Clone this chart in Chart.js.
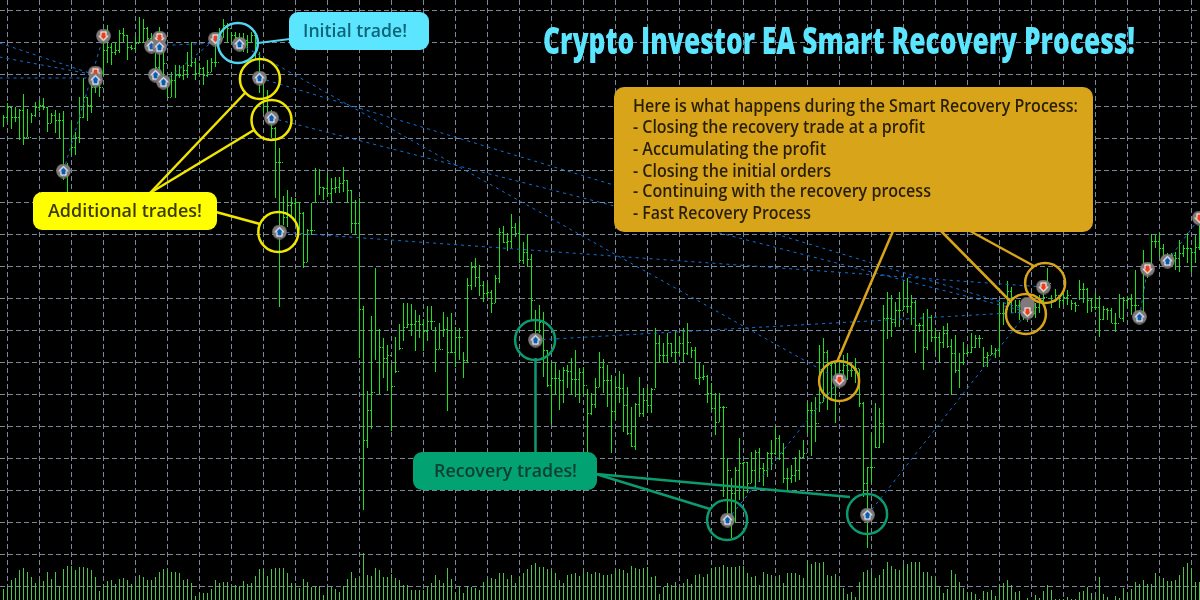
<!DOCTYPE html>
<html>
<head>
<meta charset="utf-8">
<title>Crypto Investor EA Smart Recovery Process</title>
<script src="https://cdn.jsdelivr.net/npm/chart.js@4"></script>
<style>
    html, body { margin: 0; padding: 0; background: #000; overflow: hidden; }
    #chart { display: block; }
</style>
</head>
<body>
<canvas id="chart" width="1200" height="600"></canvas>
<script>
// Price bars (one bar per 4 px, 300 bars)
const highs = [
    485,497,493,493,491,506,491,487,498,500,502,493,487,490,487,489,437,478,468,503,
    522,503,520,523,520,557,575,557,558,570,572,565,555,563,583,581,573,567,547,573,
    550,523,528,535,535,535,548,558,542,537,533,540,542,557,572,581,577,568,568,567,
    567,565,568,567,548,517,510,490,473,452,404,410,403,402,398,388,371,397,432,431,
    413,427,422,423,423,433,420,410,400,402,294,209,284,332,271,262,255,236,263,276,
    297,297,296,290,285,281,294,294,273,277,288,283,287,273,272,248,322,338,342,335,
    319,317,310,325,372,374,367,386,377,379,358,366,346,290,295,288,250,238,237,230,
    233,235,242,250,232,233,211,207,222,248,241,235,225,222,229,226,213,193,197,223,
    212,213,212,272,265,257,267,257,269,264,272,277,253,253,237,235,225,217,207,207,
    194,142,122,133,162,138,138,148,150,152,137,148,160,173,165,157,132,135,143,150,
    160,198,198,203,255,262,250,237,237,237,245,247,237,242,231,198,133,167,197,192,
    295,308,305,298,308,318,322,305,300,277,287,291,285,272,268,274,277,261,265,247,
    258,253,267,265,265,253,248,255,252,298,298,319,313,300,300,290,300,297,297,305,
    312,332,305,311,303,308,310,300,298,320,317,312,302,307,304,294,292,292,287,306,
    303,303,306,330,290,350,333,366,365,367,356,347,347,348,360,355,367,352,365,375
];
const lows = [
    473,478,471,478,460,455,463,477,483,489,490,468,477,467,462,420,408,445,445,457,
    482,479,487,507,503,524,537,535,545,547,558,540,550,550,557,557,558,548,520,528,
    515,503,503,502,522,520,522,533,520,525,515,523,528,533,557,562,557,558,553,550,
    548,547,558,540,507,487,485,462,402,293,375,373,383,380,370,332,338,365,398,405,
    400,403,397,407,407,408,397,367,365,242,90,152,171,240,206,222,209,169,227,250,
    259,272,264,249,262,249,259,270,228,251,263,189,247,233,240,222,237,310,313,304,
    298,302,287,297,317,357,349,352,363,337,336,333,280,258,267,223,213,176,205,190,
    197,212,205,203,197,205,147,185,192,213,207,193,147,180,197,168,165,153,150,183,
    183,187,187,212,237,237,237,243,237,245,238,245,242,221,215,220,197,190,165,178,
    103,77,62,77,100,102,107,117,112,118,114,123,130,145,140,117,110,117,118,120,
    142,167,144,158,188,198,190,202,177,220,220,220,223,217,193,103,52,117,152,152,
    157,261,263,273,273,290,287,275,247,268,230,250,258,248,238,252,252,205,227,212,
    235,245,247,252,252,233,233,245,242,243,275,290,287,287,280,280,278,282,282,287,
    298,313,292,298,292,295,295,290,288,300,297,287,288,290,263,280,280,277,268,282,
    278,292,285,288,280,287,322,335,352,343,340,338,337,330,328,343,337,328,337,350
];
const closes = [
    483,493,483,483,490,463,463,485,493,495,493,477,485,480,480,433,430,453,463,483,
    503,495,513,520,513,550,553,548,550,567,565,553,552,557,558,572,562,553,533,557,
    537,503,520,525,525,530,535,538,527,532,525,528,538,538,562,575,572,565,563,562,
    560,558,565,557,528,500,488,472,438,438,383,395,397,398,387,338,370,370,398,413,
    412,407,412,413,417,420,410,377,377,291,160,190,208,270,253,242,245,214,229,252,
    273,276,276,279,276,269,279,279,251,251,271,248,248,263,263,240,315,333,323,315,
    307,308,297,322,368,358,359,373,367,340,348,341,300,270,278,250,215,222,222,220,
    230,229,221,221,228,215,187,196,213,233,220,220,189,213,212,195,167,154,196,187,
    200,195,211,257,245,245,257,248,248,257,247,258,250,222,223,224,207,192,178,193,
    193,130,107,130,137,138,117,130,148,132,130,147,147,162,147,122,122,125,130,143,
    147,190,190,177,198,248,235,237,220,230,235,230,230,232,197,117,133,133,153,177,
    282,282,278,290,290,294,294,298,275,275,253,283,263,263,258,267,254,247,230,238,
    247,248,253,262,262,243,245,247,250,287,287,309,303,295,290,288,287,287,293,300,
    303,317,300,305,300,303,305,297,295,311,311,300,293,293,281,291,290,277,277,282,
    300,301,295,295,285,328,328,359,359,352,345,343,345,342,347,352,352,348,353,352
];
const volumes = [
    11,13,20,22,30,32,28,23,17,21,19,28,21,28,14,31,34,34,30,33,
    33,32,30,23,9,16,19,20,16,21,22,20,16,19,25,23,20,20,23,28,
    31,30,28,28,27,20,21,17,4,7,7,7,11,20,17,18,18,13,15,14,
    19,16,17,24,31,31,24,31,32,32,32,27,17,17,12,21,18,13,14,14,
    5,12,13,11,8,14,21,28,22,22,47,25,24,32,30,23,23,26,22,20,
    15,15,10,10,10,10,13,17,25,20,17,32,21,7,14,7,14,13,12,10,
    18,21,22,21,27,27,21,25,17,23,27,31,35,37,33,33,31,29,27,20,
    17,25,26,27,24,27,28,26,28,27,25,25,26,30,31,30,27,34,32,31,
    32,33,23,24,6,13,17,15,18,12,17,21,16,25,26,23,26,32,33,33,
    35,33,33,33,34,34,27,23,24,15,28,26,25,21,25,17,27,27,27,25,
    22,40,36,38,37,38,25,24,26,20,12,6,8,3,18,28,30,27,22,25,
    31,38,34,31,30,35,36,38,38,38,28,28,24,21,14,7,11,30,26,18,
    12,7,8,6,1,9,8,10,4,15,17,20,15,8,9,0,2,0,5,2,
    9,15,10,1,1,1,3,1,1,8,9,13,7,3,23,6,3,0,4,2,
    12,7,11,18,16,20,16,16,27,22,22,19,19,20,25,33,37,31,18,18
];

// Trade arrows
const buyBars = [15,23,37,39,38,40,59,64,67,69,133,181,216,284,291];
const buyPrices = [429,520,554,553,525,518,556,522,482,368,260,80,85,283,339];
const sellBars = [25,23,39,53,209,256,260,286,299];
const sellPrices = [564,527,562,561,220,288,313,331,382];
// Closes stacked behind the front arrow, only their discs show
const stackedBars = [256,256];
const stackedPrices = [296,293];

// Dotted lines joining an opening trade to its close
const lineFromBars = [15,-1,-1,-1,37,40,59,64,67,69,133,181,216,284,291];
const lineFromPrices = [429,557,543,522,554,518,556,522,482,368,260,80,85,283,339];
const lineToBars = [25,23,23,23,53,53,209,256,256,260,256,209,256,286,299];
const lineToPrices = [564,525,525,522,557,561,220,290,288,313,288,220,288,331,382];

// Rings around the trades named by the callouts
const cyanRingBars = [58.6];
const cyanRingPrices = [557];
const yellowRingBars = [64.1,67,68.7];
const yellowRingPrices = [521,480,368];
const greenRingBars = [132.9,180.9,215.9];
const greenRingPrices = [260,80,86];
const goldRingBars = [208.9,255.6,260.4];
const goldRingPrices = [219,286,317];

const titleText = 'Crypto Investor EA Smart Recovery Process!';
const goldLines = [
    'Here is what happens during the Smart Recovery Process:',
    '- Closing the recovery trade at a profit',
    '- Accumulating the profit',
    '- Closing the initial orders',
    '- Continuing with the recovery process',
    '- Fast Recovery Process'
];

const CYAN = '#5ce5ff';
const YELLOW = '#ffff00';
const YELLOW_LINE = '#f0e600';
const GREEN = '#03a272';
const GREEN_LINE = '#0c9a70';
const GOLD = '#d7a41a';

function zip(xs, ys) {
    return xs.map((x, i) => ({ x: x, y: ys[i] }));
}

// Close tick sits in the gap between two bars, two pixels with a hole in the middle
function makeTick() {
    const c = document.createElement('canvas');
    c.width = 3;
    c.height = 1;
    const g = c.getContext('2d');
    g.fillStyle = '#1be31b';
    g.fillRect(0, 0, 1, 1);
    g.fillRect(2, 0, 1, 1);
    return c;
}

function makeDisc() {
    const c = document.createElement('canvas');
    c.width = 15;
    c.height = 15;
    const g = c.getContext('2d');
    g.fillStyle = '#80797a';
    g.beginPath();
    g.arc(7.5, 7.5, 7.3, 0, Math.PI * 2);
    g.fill();
    return c;
}

// Gray disc with a white-edged arrow
function makeMarker(up) {
    const c = makeDisc();
    const g = c.getContext('2d');
    if (!up) {
        g.translate(0, 15);
        g.scale(1, -1);
    }
    g.fillStyle = '#ffffff';
    g.beginPath();
    g.moveTo(7.5, 2.5);
    g.lineTo(12.8, 7.8);
    g.lineTo(10.5, 7.8);
    g.lineTo(10.5, 12);
    g.lineTo(4.5, 12);
    g.lineTo(4.5, 7.8);
    g.lineTo(2.2, 7.8);
    g.closePath();
    g.fill();
    g.fillStyle = up ? '#0a5cb0' : '#e8401c';
    g.beginPath();
    g.moveTo(7.5, 4);
    g.lineTo(11, 7.5);
    g.lineTo(9.5, 7.5);
    g.lineTo(9.5, 11);
    g.lineTo(5.5, 11);
    g.lineTo(5.5, 7.5);
    g.lineTo(4, 7.5);
    g.closePath();
    g.fill();
    return c;
}

function ringDataset(bars, prices, color) {
    return {
        type: 'scatter',
        data: zip(bars, prices),
        pointStyle: 'circle',
        pointRadius: 20,
        pointBorderWidth: 2.5,
        pointBorderColor: color,
        pointBackgroundColor: 'transparent',
        clip: false,
        order: 1
    };
}

const datasets = [
    {
        data: volumes.map((v, i) => ({ x: i, y: v })),
        yAxisID: 'yVol',
        backgroundColor: '#4cc44c',
        barThickness: 1,
        inflateAmount: 0,
        grouped: false,
        order: 6
    },
    {
        data: highs.map((h, i) => ({ x: i, y: [lows[i], h] })),
        backgroundColor: '#1be31b',
        barThickness: 1,
        inflateAmount: 0,
        grouped: false,
        order: 5
    },
    {
        type: 'scatter',
        data: closes.map((c, i) => ({ x: i + 0.5, y: c })),
        pointStyle: makeTick(),
        order: 4
    },
    {
        type: 'scatter',
        data: zip(stackedBars, stackedPrices),
        pointStyle: makeDisc(),
        order: 2.6
    },
    {
        type: 'scatter',
        data: zip(sellBars, sellPrices),
        pointStyle: makeMarker(false),
        order: 2.5
    },
    {
        type: 'scatter',
        data: zip(buyBars, buyPrices),
        pointStyle: makeMarker(true),
        order: 2
    },
    ringDataset(cyanRingBars, cyanRingPrices, '#52d5ee'),
    ringDataset(yellowRingBars, yellowRingPrices, YELLOW_LINE),
    ringDataset(greenRingBars, greenRingPrices, GREEN_LINE),
    ringDataset(goldRingBars, goldRingPrices, GOLD)
];

lineFromBars.forEach(function(from, i) {
    datasets.push({
        type: 'line',
        data: [{ x: from, y: lineFromPrices[i] }, { x: lineToBars[i], y: lineToPrices[i] }],
        borderColor: '#1470d8',
        borderWidth: 1,
        borderDash: [3, 4],
        pointRadius: 0,
        order: 3
    });
});

function line(ctx, x1, y1, x2, y2, color, width) {
    ctx.strokeStyle = color;
    ctx.lineWidth = width;
    ctx.beginPath();
    ctx.moveTo(x1, y1);
    ctx.lineTo(x2, y2);
    ctx.stroke();
}

function box(ctx, x, y, w, h, r, color) {
    ctx.fillStyle = color;
    ctx.beginPath();
    ctx.roundRect(x, y, w, h, r);
    ctx.fill();
}

function label(ctx, text, x, y, width, font, color) {
    ctx.font = font;
    ctx.fillStyle = color;
    ctx.textAlign = 'left';
    ctx.textBaseline = 'alphabetic';
    ctx.fillText(text, x, y, width);
}

// Callouts and the title go over everything else
const calloutPlugin = {
    id: 'callouts',
    afterDatasetsDraw: function(chart) {
        const ctx = chart.ctx;
        const semi = '600 18px "Open Sans"';
        ctx.save();

        line(ctx, 258, 43, 290, 39, '#52d5ee', 2);
        box(ctx, 289, 12, 140, 38, 9, CYAN);
        label(ctx, 'Initial trade!', 303, 37, 104, semi, '#0f6478');

        line(ctx, 150, 193, 245, 93, YELLOW_LINE, 2.5);
        line(ctx, 150, 193, 254, 130, YELLOW_LINE, 2.5);
        line(ctx, 216, 212, 260, 224, YELLOW_LINE, 2.5);
        box(ctx, 33, 192, 184, 38, 9, YELLOW);
        label(ctx, 'Additional trades!', 48, 217, 154, semi, '#3c3c00');

        line(ctx, 535.5, 358, 535.5, 453, GREEN_LINE, 2.5);
        line(ctx, 596, 474, 710, 509, GREEN_LINE, 2.5);
        line(ctx, 596, 474, 850, 497, GREEN_LINE, 2.5);
        box(ctx, 413, 452, 184, 38, 9, GREEN);
        label(ctx, 'Recovery trades!', 434, 477, 143, semi, '#0d3f32');

        line(ctx, 893, 231, 837, 362, GOLD, 2.5);
        line(ctx, 941, 231, 1010, 301, GOLD, 2.5);
        line(ctx, 970, 231, 1034, 266, GOLD, 2.5);
        box(ctx, 614, 87, 479, 145, 10, GOLD);
        const widths = [445, 292, 193, 198, 298, 178];
        const baselines = [112, 133, 155, 177, 197, 219];
        goldLines.forEach(function(text, i) {
            label(ctx, text, 633, baselines[i], widths[i], semi, '#2a1f06');
        });

        label(ctx, titleText, 543, 54, 592, '800 37px "Open Sans"', CYAN);
        ctx.restore();
    }
};

document.addEventListener('DOMContentLoaded', function() {
    const ctx = document.getElementById('chart').getContext('2d');
    new Chart(ctx, {
        type: 'bar',
        data: { datasets: datasets },
        options: {
            responsive: false,
            animation: false,
            events: [],
            layout: { padding: 0, autoPadding: false },
            plugins: {
                legend: { display: false },
                tooltip: { enabled: false },
                title: { display: false }
            },
            scales: {
                x: {
                    type: 'linear',
                    offset: false,
                    min: -0.875,
                    max: 299.125,
                    afterBuildTicks: function(axis) {
                        const ticks = [];
                        for (let v = 5; v < 300; v += 8) ticks.push({ value: v });
                        axis.ticks = ticks;
                    },
                    grid: { color: '#778899', drawTicks: false },
                    border: { display: false, dash: [5, 3] },
                    ticks: { display: false }
                },
                y: {
                    min: 0,
                    max: 600,
                    afterBuildTicks: function(axis) {
                        const ticks = [];
                        for (let v = 13.5; v < 600; v += 32) ticks.push({ value: v });
                        axis.ticks = ticks;
                    },
                    grid: { color: '#778899', drawTicks: false },
                    border: { display: false, dash: [5, 3] },
                    ticks: { display: false }
                },
                yVol: {
                    display: false,
                    min: 0,
                    max: 600
                }
            }
        },
        plugins: [calloutPlugin]
    });
});
</script>
</body>
</html>
